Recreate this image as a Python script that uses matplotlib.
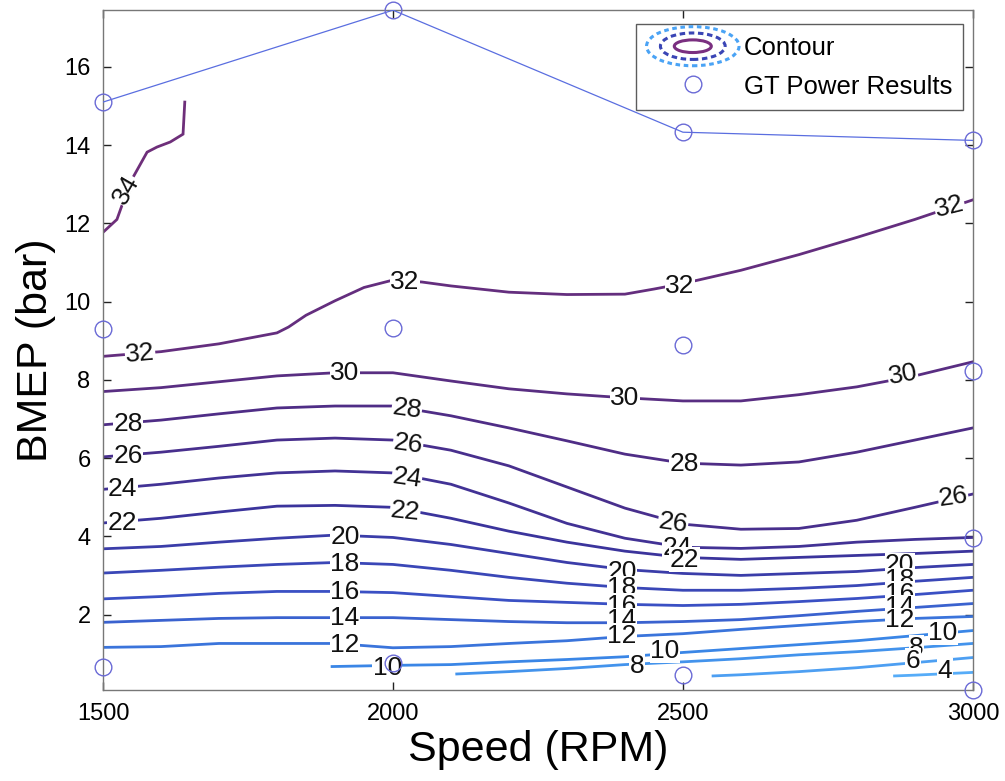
import numpy as np
import matplotlib.pyplot as plt
from matplotlib.colors import LinearSegmentedColormap
from matplotlib.legend_handler import HandlerBase
from matplotlib.lines import Line2D
from matplotlib.patches import Ellipse

plt.rcParams['font.family'] = ['Liberation Sans', 'DejaVu Sans']

# efficiency contour lines, BMEP (bar) read along the speed grid
SPEED = [1500, 1600, 1700, 1800, 1900, 2000, 2100, 2200,
         2300, 2400, 2500, 2600, 2700, 2800, 2900, 3000]

BMEP_30 = [7.70, 7.80, 7.95, 8.10, 8.18, 8.18, 7.97, 7.77,
           7.64, 7.54, 7.46, 7.46, 7.62, 7.82, 8.10, 8.46]
BMEP_28 = [6.85, 6.97, 7.13, 7.28, 7.33, 7.33, 7.08, 6.77,
           6.44, 6.10, 5.87, 5.82, 5.90, 6.15, 6.46, 6.77]
BMEP_26 = [6.03, 6.15, 6.30, 6.46, 6.51, 6.46, 6.20, 5.80,
           5.26, 4.72, 4.31, 4.18, 4.20, 4.41, 4.74, 5.08]
BMEP_24 = [5.20, 5.33, 5.49, 5.62, 5.67, 5.62, 5.33, 4.85,
           4.33, 3.95, 3.72, 3.69, 3.74, 3.85, 3.92, 3.97]
BMEP_22 = [4.34, 4.46, 4.62, 4.77, 4.79, 4.74, 4.46, 4.13,
           3.85, 3.62, 3.46, 3.41, 3.46, 3.51, 3.56, 3.62]
BMEP_20 = [3.68, 3.74, 3.85, 3.95, 4.03, 3.97, 3.79, 3.56,
           3.33, 3.15, 3.05, 3.00, 3.05, 3.10, 3.20, 3.28]
BMEP_18 = [3.06, 3.13, 3.21, 3.28, 3.33, 3.28, 3.13, 2.95,
           2.80, 2.69, 2.62, 2.62, 2.67, 2.74, 2.85, 2.95]
BMEP_16 = [2.40, 2.46, 2.54, 2.59, 2.59, 2.56, 2.46, 2.36,
           2.31, 2.26, 2.23, 2.26, 2.33, 2.41, 2.51, 2.62]
BMEP_14 = [1.80, 1.85, 1.90, 1.92, 1.92, 1.92, 1.87, 1.82,
           1.79, 1.79, 1.82, 1.87, 1.97, 2.08, 2.18, 2.28]
BMEP_12 = [1.16, 1.18, 1.26, 1.26, 1.26, 1.15, 1.18, 1.26,
           1.33, 1.44, 1.51, 1.62, 1.72, 1.82, 1.90, 1.95]

# the 32 contour bends sharply past 1800 rpm, so it has its own grid
SPEED_32 = [1500, 1600, 1700, 1800, 1820, 1850, 1900, 1950, 2000, 2050,
            2100, 2200, 2300, 2400, 2450, 2500, 2600, 2700, 2800, 2900, 3000]
BMEP_32 = [8.60, 8.72, 8.92, 9.20, 9.35, 9.65, 10.02, 10.36, 10.55, 10.50,
           10.40, 10.24, 10.18, 10.19, 10.32, 10.46, 10.80, 11.20, 11.64, 12.10, 12.60]

# partial contours that only cover part of the map
SPEED_34 = [1500, 1524, 1547, 1576, 1593, 1616, 1638, 1641]
BMEP_34 = [11.77, 12.10, 13.05, 13.82, 13.95, 14.08, 14.28, 15.10]
SPEED_10 = [1895, 2000, 2100, 2200, 2300, 2400, 2500, 2600, 2700, 2800, 2900, 3000]
BMEP_10 = [0.67, 0.70, 0.72, 0.79, 0.85, 0.92, 1.03, 1.13, 1.23, 1.33, 1.46, 1.59]
SPEED_8 = [2110, 2200, 2300, 2400, 2500, 2600, 2700, 2800, 2900, 3000]
BMEP_8 = [0.48, 0.54, 0.62, 0.72, 0.79, 0.87, 0.97, 1.05, 1.15, 1.26]
SPEED_6 = [2552, 2600, 2700, 2800, 2900, 3000]
BMEP_6 = [0.43, 0.46, 0.54, 0.64, 0.77, 0.90]
SPEED_4 = [2865, 2900, 3000]
BMEP_4 = [0.43, 0.45, 0.52]

# inline contour labels: (level, speed, bmep, rotation)
LABELS = [
    (34, 1540, 12.85, 60),
    (32, 1564, 8.66, 5), (32, 2021, 10.50, 0), (32, 2495, 10.40, 0), (32, 2960, 12.42, 14),
    (30, 1917, 8.18, 0), (30, 2400, 7.54, 0), (30, 2879, 8.13, 10),
    (28, 1543, 6.88, 0), (28, 2024, 7.26, -8), (28, 2503, 5.84, 0),
    (26, 1543, 6.05, 0), (26, 2026, 6.35, -8), (26, 2483, 4.33, -8), (26, 2966, 5.00, 8),
    (24, 1534, 5.22, 0), (24, 2024, 5.49, -8), (24, 2490, 3.70, 0),
    (22, 1534, 4.35, 0), (22, 2021, 4.62, -6), (22, 2503, 3.40, 0),
    (20, 1917, 3.98, 0), (20, 2395, 3.09, 0), (20, 2874, 3.26, 0),
    (18, 1917, 3.30, 0), (18, 2395, 2.67, 0), (18, 2874, 2.87, 0),
    (16, 1917, 2.57, 0), (16, 2395, 2.23, 0), (16, 2874, 2.53, 0),
    (14, 1917, 1.92, 0), (14, 2395, 1.85, 0), (14, 2874, 2.18, 0),
    (12, 1917, 1.22, 0), (12, 2395, 1.46, 0), (12, 2874, 1.85, 0),
    (10, 1990, 0.64, 0), (10, 2469, 1.08, 0), (10, 2948, 1.54, 0),
    (8, 2421, 0.69, 0), (8, 2903, 1.15, 0),
    (6, 2897, 0.82, 0),
    (4, 2952, 0.56, 0),
]

# GT-Power operating points and full-load curve
GT_SPEED = [1500, 1500, 1500, 2000, 2000, 2000, 2500, 2500, 2500, 3000, 3000, 3000, 3000]
GT_BMEP = [15.10, 9.30, 0.65, 17.45, 9.33, 0.75, 14.33, 8.90, 0.45, 14.12, 8.22, 3.95, 0.07]
FULL_LOAD_SPEED = [1500, 2000, 2500, 3000]
FULL_LOAD_BMEP = [15.10, 17.45, 14.33, 14.12]

contours = [
    (4, SPEED_4, BMEP_4), (6, SPEED_6, BMEP_6), (8, SPEED_8, BMEP_8),
    (10, SPEED_10, BMEP_10), (12, SPEED, BMEP_12), (14, SPEED, BMEP_14),
    (16, SPEED, BMEP_16), (18, SPEED, BMEP_18), (20, SPEED, BMEP_20),
    (22, SPEED, BMEP_22), (24, SPEED, BMEP_24), (26, SPEED, BMEP_26),
    (28, SPEED, BMEP_28), (30, SPEED, BMEP_30), (32, SPEED_32, BMEP_32),
    (34, SPEED_34, BMEP_34),
]

cmap = LinearSegmentedColormap.from_list(
    'eff', ['#56acf8', '#3a86e6', '#3a50c4', '#3b349c', '#4f2d86', '#6e2f7a'])
vmin, vmax = 4, 34


def level_colour(lv):
    return cmap((lv - vmin) / (vmax - vmin))


class ContourIcon(HandlerBase):
    """Small set of nested ellipses used as the legend key for the contours."""
    def create_artists(self, legend, orig_handle, xdescent, ydescent,
                       width, height, fontsize, trans):
        cx, cy = width / 2 - xdescent, height / 2 - ydescent
        rings = [
            (1.0, 1.7, '#4aa3f5', (0, (1.5, 1.2))),
            (0.7, 1.15, '#3a45b5', (0, (1.8, 1.2))),
            (0.4, 0.55, '#7a2f80', '-'),
        ]
        out = []
        for sw, sh, col, ls in rings:
            e = Ellipse((cx, cy), width * sw, height * sh, fill=False,
                        edgecolor=col, linestyle=ls, linewidth=2.2,
                        transform=trans)
            out.append(e)
        return out


fig = plt.figure(figsize=(10.05, 7.81), dpi=100)
ax = fig.add_axes([0.1025, 0.1165, 0.8655, 0.8705])

for lv, xs, ys in contours:
    ax.plot(xs, ys, color=level_colour(lv), linewidth=2.0, zorder=2,
            solid_joinstyle='miter')

for lv, x, y, rot in LABELS:
    ax.text(x, y, str(lv), fontsize=19, ha='center', va='center',
            rotation=rot, rotation_mode='anchor', color='#111111', zorder=3,
            bbox=dict(boxstyle='square,pad=0.02', facecolor='white',
                      edgecolor='none'))

ax.plot(FULL_LOAD_SPEED, FULL_LOAD_BMEP, color='#5a6ee0', linewidth=0.9,
        zorder=4)
ax.plot(GT_SPEED, GT_BMEP, linestyle='none', marker='o', markersize=12,
        markerfacecolor='none', markeredgecolor='#6a6ad6',
        markeredgewidth=1.0, zorder=5, clip_on=False)

ax.set_xlim(1500, 3000)
ax.set_ylim(min(GT_BMEP), max(GT_BMEP))
ax.set_xticks([1500, 2000, 2500, 3000])
ax.set_yticks(np.arange(2, 17, 2))
ax.tick_params(direction='in', top=True, right=True, length=6, width=1.0,
               labelsize=17, color='#222222', pad=9)
for s in ax.spines.values():
    s.set_color('#777777')
    s.set_linewidth(1.0)

ax.set_xlabel('Speed (RPM)', fontsize=31, labelpad=4)
ax.set_ylabel('BMEP (bar)', fontsize=31, labelpad=6)

handles = [Line2D([], [], color='#3a45b5'),
           Line2D([], [], linestyle='none', marker='o', markersize=12,
                  markerfacecolor='none', markeredgecolor='#6a6ad6')]
leg = ax.legend(handles, ['Contour', 'GT Power Results'], loc='upper right',
                bbox_to_anchor=(0.9885, 0.979), fontsize=18.5, frameon=True,
                fancybox=False, edgecolor='#333333', handlelength=3.6,
                handleheight=1.0, handletextpad=0.2, borderpad=0.4,
                labelspacing=0.55, borderaxespad=0.0,
                handler_map={handles[0]: ContourIcon()})
leg.get_frame().set_linewidth(1.0)

fig.savefig('out.png', dpi=100)
